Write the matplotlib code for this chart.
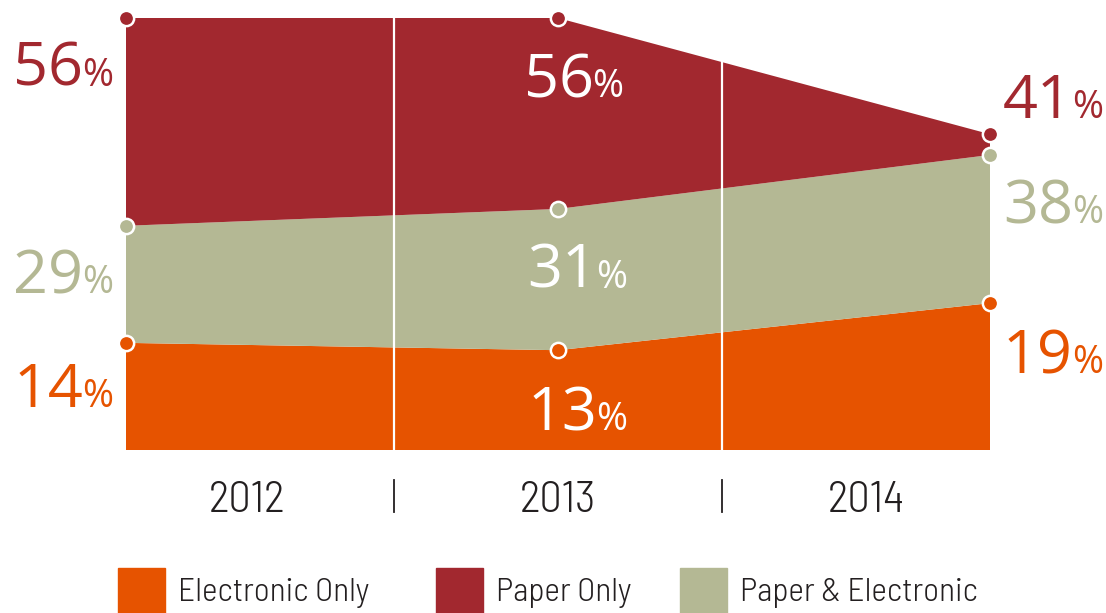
#!/usr/bin/env python3
import numpy as np
import matplotlib
matplotlib.use("Agg")
import matplotlib.pyplot as plt
from matplotlib.patches import Rectangle
from matplotlib.transforms import offset_copy, blended_transform_factory

# data
years = ["2012", "2013", "2014"]
series = ["Electronic Only", "Paper Only", "Paper & Electronic"]
electronic_pct = [14, 13, 19]
paper_elec_pct = [29, 31, 38]
paper_pct = [56, 56, 41]
# band heights as drawn in the graphic (not to scale with the labels)
electronic_band = [24.8, 23.1, 34.0]
paper_elec_band = [27.1, 32.7, 34.3]
paper_band = [48.1, 44.2, 4.8]

ORANGE = "#E65300"
RED = "#A2282F"
SAGE = "#B4B894"
DARK = "#231F20"
NUM_FONT = ["Open Sans", "DejaVu Sans"]
NARROW = ["Barlow Semi Condensed", "Barlow Condensed", "DejaVu Sans"]

fig = plt.figure(figsize=(11.06, 6.13), dpi=100)
ax = fig.add_axes([126 / 1106, 163 / 613, 864 / 1106, 432 / 613])
ax.set_xlim(0, 2)
ax.set_ylim(0, 100)
ax.axis("off")

x = np.arange(len(years))
ax.stackplot(x, electronic_band, paper_elec_band, paper_band,
             colors=[ORANGE, SAGE, RED], linewidth=0)

cum1 = np.array(electronic_band)
cum2 = cum1 + np.array(paper_elec_band)
cum3 = cum2 + np.array(paper_band)

# white dividers between years
for xv in (0.62, 1.38):
    ax.plot([xv, xv], [0, np.interp(xv, x, cum3)], color="white", lw=1.6, zorder=3)

# point markers
for cum, col in ((cum1, ORANGE), (cum2, SAGE), (cum3, RED)):
    ax.plot(x, cum, "o", ms=11, mfc=col, mec="white", mew=1.8,
            clip_on=False, zorder=5)

renderer = fig.canvas.get_renderer()


def pct_label(xd, yd, value, color, align):
    num = ax.text(xd, yd, str(value), fontsize=44, color=color, ha="left",
                  va="baseline", family=NUM_FONT)
    sign = ax.text(xd, yd, "%", fontsize=27, color=color, ha="left",
                   va="baseline", family=NUM_FONT)
    wn = num.get_window_extent(renderer).width
    wp = sign.get_window_extent(renderer).width
    gap = -1
    total = wn + gap + wp
    start = {"left": 0, "right": -total, "center": -total / 2}[align]
    num.set_transform(offset_copy(ax.transData, fig=fig, x=start, y=0, units="dots"))
    sign.set_transform(offset_copy(ax.transData, fig=fig, x=start + wn + gap, y=0,
                                   units="dots"))


# 2012 labels (left of area)
pct_label(-0.03, 84.3, paper_pct[0], RED, "right")
pct_label(-0.03, 36.3, paper_elec_pct[0], SAGE, "right")
pct_label(-0.03, 10.0, electronic_pct[0], ORANGE, "right")
# 2013 labels (inside area)
pct_label(1.036, 81.7, paper_pct[1], "white", "center")
pct_label(1.045, 37.5, paper_elec_pct[1], "white", "center")
pct_label(1.045, 4.6, electronic_pct[1], "white", "center")
# 2014 labels (right of area)
pct_label(2.03, 76.9, paper_pct[2], RED, "left")
pct_label(2.03, 52.5, paper_elec_pct[2], SAGE, "left")
pct_label(2.03, 17.8, electronic_pct[2], ORANGE, "left")

# year labels and separators
trans = blended_transform_factory(ax.transData, ax.transAxes)
for xv, yr in zip((0.28, 1.0, 1.713), years):
    ax.text(xv, -0.1435, yr, transform=trans, ha="center", va="baseline",
            fontsize=32, color=DARK, family=NARROW, fontweight=300)
for xv in (0.62, 1.38):
    ax.plot([xv, xv], [-0.069, -0.143], transform=trans, color=DARK, lw=1.3,
            clip_on=False)

# legend
legend_x = [118, 436, 680]
for lx, name, col in zip(legend_x, series, [ORANGE, RED, SAGE]):
    fig.patches.append(Rectangle((lx / 1106, 0), 47 / 1106, 45 / 613,
                                 transform=fig.transFigure, color=col))
    fig.text((lx + 60) / 1106, 1 - 601 / 613, name, ha="left", va="baseline",
             fontsize=24, color=DARK, family=NARROW, fontweight=300)

fig.savefig("out.png", dpi=100)
